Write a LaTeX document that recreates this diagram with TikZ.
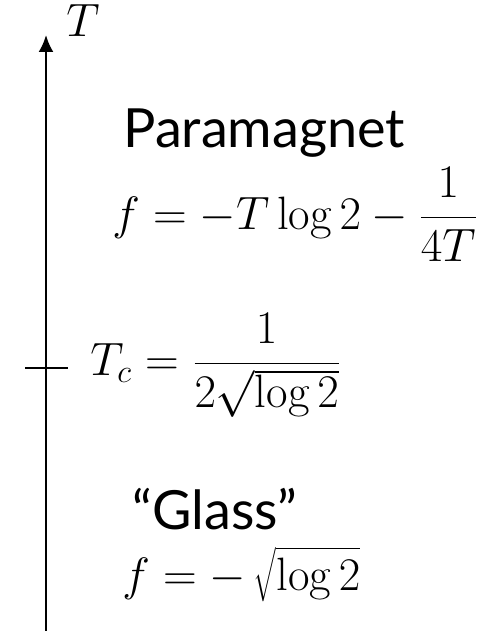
\documentclass[tikz,border=0pt]{standalone}
\usepackage{fontspec}
\newfontfamily\labelfont{Lato}
\usetikzlibrary{arrows.meta}
\begin{document}
\begin{tikzpicture}[x=0.5pt,y=-0.5pt,
  axisline/.style={line width=1.15pt},
  mathlbl/.style={anchor=base west,inner sep=0pt,font=\huge,scale=1.128,transform shape},
  phaselbl/.style={anchor=base west,inner sep=0pt,font=\labelfont\fontsize{27}{32}\selectfont}]
\useasboundingbox (0,0) rectangle (486,631);
\coordinate (bot) at (46,631);
\coordinate (top) at (46,35);
\draw[axisline,-{Latex[length=8.5pt,width=7.5pt]}] (bot) -- (top);
\node[mathlbl] (tlabel) at (66,37) {$T$};
\coordinate (tickl) at (25,368);
\coordinate (tickr) at (68,368);
\draw[axisline] (tickl) -- (tickr);
\node[mathlbl] (tc) at (90,375) {$\displaystyle T_c = \frac{1}{2\sqrt{\log 2}}$};
\node[phaselbl] (para) at (123,148) {Paramagnet};
\node[mathlbl] (fpara) at (112,229) {$\displaystyle f = -T\log 2 - \frac{1}{4T}$};
\node[phaselbl,text depth=0pt] (glass) at (132,529) {“Glass”};
\node[mathlbl] (fglass) at (122,590) {$\displaystyle f = -\,\sqrt{\log 2}$};
\end{tikzpicture}
\end{document}
